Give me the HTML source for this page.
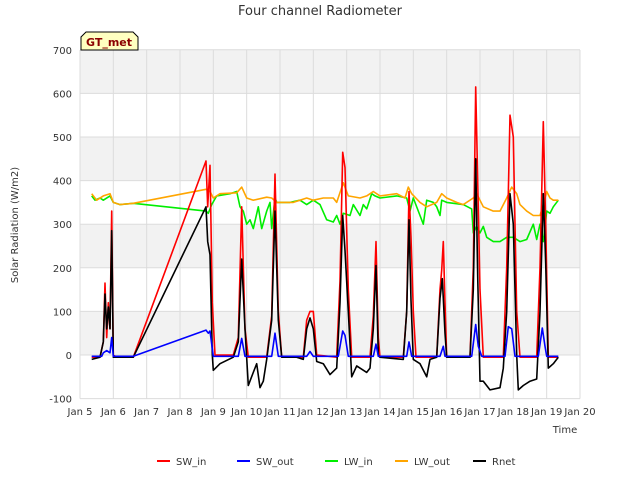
<!DOCTYPE html>
<html><head><meta charset="utf-8"><style>
body{margin:0;background:#fff;font-family:"Liberation Sans","DejaVu Sans",sans-serif}
svg text{font-family:"DejaVu Sans","Liberation Sans",sans-serif}
</style></head><body>
<svg id="c" width="640" height="480" xmlns="http://www.w3.org/2000/svg">
<rect width="640" height="480" fill="#fff"/>
<text x="320" y="15" text-anchor="middle" font-size="13" fill="#333">Four channel Radiometer</text>
<g id="plot"></g>
<text x="565" y="433" text-anchor="middle" font-size="10" fill="#333">Time</text>
<text transform="translate(18,225) rotate(-90)" text-anchor="middle" font-size="10" fill="#333">Solar Radiation (W/m2)</text>
<g>
<path d="M81,50 L81,37 L86,32 L133,32 L138,37 L138,50 Z" fill="#ffffc0" stroke="#000" stroke-width="1"/>
<text x="109" y="46" text-anchor="middle" font-size="11" font-weight="bold" fill="#8b0000">GT_met</text>
</g>
<g id="legend"></g>
</svg>
<script>
const yTicks=[-100,0,100,200,300,400,500,600,700];
const xTickLabels=["Jan 5","Jan 6","Jan 7","Jan 8","Jan 9","Jan 10","Jan 11","Jan 12","Jan 13","Jan 14","Jan 15","Jan 16","Jan 17","Jan 18","Jan 19","Jan 20"];
const seriesNames=["SW_in","SW_out","LW_in","LW_out","Rnet"];
const swInT=[0.35,0.6,0.7,0.75,0.8,0.85,0.9,0.95,1.0,1.1,1.6,3.78,3.83,3.9,3.97,4.05,4.6,4.75,4.85,4.95,5.05,5.6,5.75,5.85,5.95,6.05,6.7,6.8,6.9,7.0,7.1,7.7,7.8,7.88,7.95,8.05,8.15,8.7,8.8,8.88,8.95,9.0,9.7,9.8,9.87,9.93,10.0,10.08,10.7,10.8,10.85,10.9,10.95,11.0,11.7,11.8,11.87,11.93,12.0,12.1,12.7,12.8,12.9,13.0,13.1,13.2,13.7,13.8,13.9,13.97,14.05,14.35];
const swInV=[-5,-5,30,165,40,120,60,330,0,-5,-5,445,340,435,120,0,0,40,340,60,-5,-5,90,415,100,-5,-5,80,100,100,0,-5,170,465,430,150,-5,-5,90,260,40,-5,-5,100,375,270,100,-5,-5,150,195,260,120,-5,-5,200,615,400,150,-5,-5,200,550,500,100,-5,-5,200,535,300,-5,-5];
const swOutT=[0.35,0.65,0.7,0.8,0.9,0.95,1.0,1.6,3.78,3.85,3.9,4.0,4.75,4.85,4.95,5.75,5.85,5.95,6.8,6.9,7.0,7.75,7.88,7.95,8.05,8.8,8.88,8.95,9.8,9.87,9.95,10.8,10.9,10.95,11.75,11.87,11.95,12.05,12.75,12.85,12.95,13.05,13.75,13.87,13.95,14.0,14.35];
const swOutV=[-3,-3,5,10,5,40,-3,-3,57,50,55,-3,-3,38,-3,-3,50,-3,-3,8,-3,-3,55,45,-3,-3,25,-3,-3,30,-3,-3,20,-3,-3,70,20,-3,-3,65,60,-3,-3,62,20,-3,-3];
const lwInT=[0.35,0.45,0.6,0.7,0.9,1.0,1.2,1.6,3.78,3.85,3.95,4.1,4.5,4.7,4.8,4.9,5.0,5.1,5.2,5.35,5.45,5.6,5.7,5.75,5.85,5.9,6.3,6.6,6.8,7.0,7.2,7.4,7.6,7.7,7.8,7.9,8.1,8.2,8.4,8.5,8.6,8.75,8.85,9.0,9.5,9.8,9.9,10.0,10.2,10.3,10.4,10.6,10.7,10.8,10.85,11.0,11.5,11.75,11.8,11.9,12.0,12.1,12.2,12.4,12.6,12.8,13.0,13.2,13.4,13.6,13.7,13.8,13.9,14.0,14.1,14.2,14.35];
const lwInV=[365,355,360,355,365,350,345,348,330,325,345,365,370,375,340,330,300,310,290,340,290,330,350,290,360,350,350,355,345,355,345,310,305,320,300,325,320,345,320,345,335,370,365,360,365,360,330,360,320,300,355,350,340,320,355,350,345,335,280,295,280,295,270,260,260,270,270,260,265,300,265,300,260,330,325,340,355];
const lwOutT=[0.35,0.5,0.7,0.9,1.0,1.2,1.6,3.78,3.9,4.0,4.2,4.7,4.85,5.0,5.2,5.6,5.75,5.9,6.4,6.8,7.0,7.3,7.6,7.7,7.9,8.05,8.4,8.6,8.8,9.0,9.5,9.75,9.85,9.95,10.2,10.4,10.7,10.85,11.0,11.3,11.5,11.8,11.9,12.1,12.4,12.6,12.8,12.95,13.1,13.2,13.4,13.6,13.8,13.9,14.0,14.1,14.2,14.35];
const lwOutV=[370,355,365,370,350,345,348,380,375,360,370,372,385,360,355,362,360,350,350,360,355,360,360,350,395,365,360,365,375,365,370,360,385,370,350,340,350,370,360,350,345,360,370,340,330,330,360,385,370,345,330,320,320,345,375,360,355,355];
const rnetT=[0.35,0.6,0.7,0.75,0.8,0.85,0.9,0.95,1.0,1.1,1.6,3.78,3.83,3.9,3.97,4.0,4.2,4.6,4.75,4.85,4.95,5.05,5.2,5.3,5.4,5.5,5.6,5.75,5.85,5.95,6.05,6.5,6.7,6.8,6.9,7.0,7.1,7.3,7.5,7.7,7.8,7.88,7.95,8.05,8.15,8.3,8.6,8.7,8.8,8.88,8.95,9.0,9.7,9.8,9.87,9.93,10.0,10.2,10.4,10.5,10.7,10.8,10.87,10.9,10.95,11.0,11.7,11.8,11.87,11.93,12.0,12.1,12.3,12.6,12.7,12.8,12.9,13.0,13.1,13.15,13.3,13.5,13.7,13.8,13.9,13.97,14.05,14.2,14.35];
const rnetV=[-10,-5,30,140,60,110,60,285,-5,-5,-5,340,260,230,0,-35,-20,-5,30,220,60,-70,-40,-20,-75,-60,-10,80,330,80,-5,-5,-10,60,85,60,-15,-20,-45,-30,120,320,240,100,-50,-25,-40,-30,60,205,0,-5,-10,100,310,125,-10,-20,-50,-10,-5,130,175,130,50,-5,-5,150,450,180,-60,-60,-80,-75,-30,100,370,300,0,-80,-70,-60,-55,100,370,210,-30,-20,-5];

const NS="http://www.w3.org/2000/svg";
const X0=80,X1=580,Y0=355,PX=43.6;
function xs(d){return X0+(X1-X0)*d/15;}
function ys(v){return Y0-v*PX/100;}
const plot=document.getElementById('plot');
function mk(tag,attrs,parent){const e=document.createElementNS(NS,tag);for(const k in attrs)e.setAttribute(k,attrs[k]);(parent||plot).appendChild(e);return e;}
// bands
for(let i=0;i<yTicks.length-1;i++){
  if(yTicks[i]>=0 && (yTicks[i]/100)%2===0){
    const b=mk('rect',{x:X0,y:ys(yTicks[i]+100),width:X1-X0,height:PX,fill:'#f2f2f2'});
    
    
  }
}
yTicks.forEach(v=>{
  const l=mk('line',{x1:X0,x2:X1,y1:ys(v),y2:ys(v),stroke:'#dcdcdc','stroke-width':1});
  
  
  const t=mk('text',{x:X0-8,y:ys(v)+4,'text-anchor':'end','font-size':10,fill:'#333'});
  t.textContent=v;
  
  
});
xTickLabels.forEach((s,i)=>{
  const l=mk('line',{x1:xs(i),x2:xs(i),y1:50,y2:ys(-100),stroke:'#dcdcdc','stroke-width':1});
  
  
  const t=mk('text',{x:xs(i),y:415,'text-anchor':'middle','font-size':10,fill:'#333'});
  t.textContent=s;
  
  
});
const colors=['#ff0000','#0000ff','#00ee00','#ffa500','#000000'];
const data=[[swInT,swInV],[swOutT,swOutV],[lwInT,lwInV],[lwOutT,lwOutV],[rnetT,rnetV]];
const order=[2,3,0,4,1];
order.forEach(i=>{
  const [T,V]=data[i];
  const pts=T.map((t,j)=>xs(t).toFixed(1)+','+ys(V[j]).toFixed(1)).join(' ');
  const p=mk('polyline',{points:pts,fill:'none',stroke:colors[i],'stroke-width':1.6,'stroke-linejoin':'round'});
  
  
});
const lg=document.getElementById('legend');
const lx=[157,237,325,395,473];
seriesNames.forEach((n,i)=>{
  const g=mk('g',{},lg);
  
  
  mk('line',{x1:lx[i],x2:lx[i]+13,y1:461,y2:461,stroke:colors[i],'stroke-width':2},g);
  const t=mk('text',{x:lx[i]+19,y:465,'font-size':10,fill:'#333'},g);
  t.textContent=n;
});
</script>
</body></html>
